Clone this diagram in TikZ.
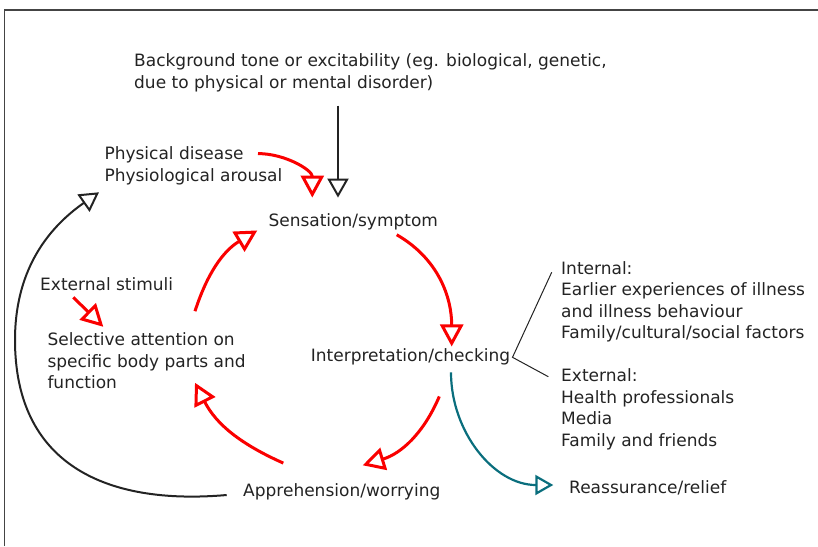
\documentclass[tikz,border=0pt]{standalone}
\usepackage{fontspec}
\setmainfont{DejaVu Sans}
\usetikzlibrary{arrows.meta}

\definecolor{alarmred}{RGB}{250,0,0}
\definecolor{calmteal}{RGB}{10,110,125}
\definecolor{inkgrey}{RGB}{35,35,35}

\tikzset{
  lbl/.style={anchor=base west, inner sep=0pt, align=left, text=inkgrey},
  redarr/.style={draw=alarmred, line width=3pt, -{Triangle[open, length=22pt, width=23pt]}},
  blkarr/.style={draw=inkgrey, line width=2pt, -{Triangle[open, length=19pt, width=21pt]}},
  tealarr/.style={draw=calmteal, line width=2.2pt, -{Triangle[open, length=18pt, width=20pt]}},
}

\begin{document}
\begin{tikzpicture}[x=1pt, y=1pt, font=\fontsize{17}{21.5}\selectfont]

    \useasboundingbox (0,0) rectangle (818,-546);

    % open frame, top and left only
    \draw[inkgrey!85, line width=1.5pt] (4.5,-546) -- (4.5,-10) -- (818,-10);

    % multi-line labels sit on the baseline of their last line
    \node[lbl] (bg) at (134,-88.3) {Background tone or excitability (eg. biological, genetic,\\due to physical or mental disorder)};

    \node[lbl] (phys) at (104.3,-181) {Physical disease\\Physiological arousal};

    \node[lbl] (sens) at (268.3,-226.7) {Sensation/symptom};

    \node[lbl] (ext) at (40,-290) {External stimuli};

    \node[lbl] (sel) at (47.3,-388.7) {Selective attention on\\specific body parts and\\function};

    \node[lbl] (interp) at (310.7,-361.7) {Interpretation/checking};

    \node[lbl] (appr) at (243,-496.7) {Apprehension/worrying};

    \node[lbl] (int) at (561,-338.6) {Internal:\\Earlier experiences of illness\\and illness behaviour\\Family/cultural/social factors};

    \node[lbl] (extr) at (561,-446.4) {External:\\Health professionals\\Media\\Family and friends};

    \node[lbl] (reas) at (569,-493.3) {Reassurance/relief};

    \coordinate (fork) at (512.5,-357.3);

    % feeding in from above
    \draw[blkarr] ([xshift=204pt,yshift=-13.5pt]bg.south west) -- ([xshift=69.7pt,yshift=16pt]sens.north west);

    \draw[redarr] ([xshift=153.7pt,yshift=-7.2pt]phys.north west) to[out=0,in=90] ([xshift=44pt,yshift=16pt]sens.north west);

    % the vicious circle
    \draw[redarr] ([xshift=128.4pt,yshift=-4.3pt]sens.south west) to[out=-30,in=90] ([xshift=141pt,yshift=2.1pt]interp.north west);

    \draw[redarr] ([xshift=128.6pt,yshift=-31pt]interp.south west) to[out=-113,in=17] ([xshift=119.7pt,yshift=18.3pt]appr.north west);

    \draw[redarr] ([xshift=40.3pt,yshift=20.5pt]appr.north west) to[out=156,in=-63] ([xshift=147.7pt,yshift=-50.2pt]sel.north west);

    \draw[redarr] ([xshift=147.7pt,yshift=21.4pt]sel.north west) to[out=72,in=211] ([xshift=-11pt]sens.south west);

    \draw[redarr] ([xshift=33.3pt,yshift=-7.3pt]ext.base west) -- ([xshift=56pt,yshift=5.8pt]sel.north west);

    % worrying feeds back to the body
    \draw[blkarr] ([xshift=-16.3pt,yshift=1.7pt]appr.base west) to[out=185,in=-90,looseness=1.2] (15,-340) to[out=90,in=215] ([xshift=-5.3pt,yshift=-45.9pt]phys.north west);

    % way out
    \draw[tealarr] ([xshift=140.3pt,yshift=-7pt]interp.south west) to[out=-90,in=180] ([xshift=-15.7pt,yshift=8.3pt]reas.base west);

    % influences on interpretation
    \draw[inkgrey, line width=1pt] ([xshift=-9.3pt,yshift=-11.3pt]int.north west) -- (fork) -- ([xshift=-12.7pt,yshift=-7.9pt]extr.north west);

\end{tikzpicture}
\end{document}
